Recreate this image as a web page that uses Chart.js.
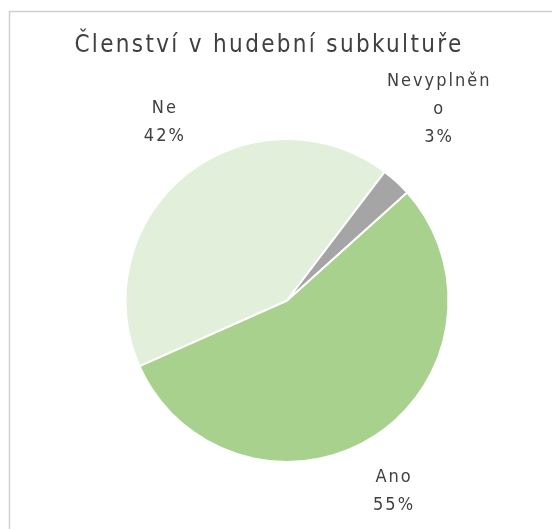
<!DOCTYPE html>
<html>
<head>
<meta charset="utf-8">
<script src="https://cdn.jsdelivr.net/npm/chart.js@4"></script>
<style>
  html, body { margin: 0; padding: 0; background: #fff; }
  #wrap { position: relative; width: 552px; height: 529px; }
</style>
</head>
<body>
<div id="wrap"><canvas id="pieChart" width="552" height="529"></canvas></div>
<script>
const categories = ["Ano", "Ne", "Nevyplněno"];
const values = [55, 42, 3];
const colors = ["#a9d18e", "#e2efda", "#a5a5a5"];
const chartTitle = "Členství v hudební subkultuře";

const FONT = "'Liberation Sans Narrow', 'DejaVu Sans Condensed', 'Liberation Sans', sans-serif";
const TEXT_COLOR = "#404040";

// thin frame on the left and top + the spaced out title
const framePlugin = {
  id: "frame",
  beforeDraw(chart) {
    const ctx = chart.ctx;
    ctx.save();
    ctx.strokeStyle = "#d0d0d0";
    ctx.lineWidth = 1.5;
    ctx.beginPath();
    ctx.moveTo(9.5, chart.height);
    ctx.lineTo(9.5, 11.5);
    ctx.lineTo(chart.width, 11.5);
    ctx.stroke();

    ctx.font = "24px " + FONT;
    ctx.fillStyle = TEXT_COLOR;
    ctx.textAlign = "center";
    ctx.textBaseline = "alphabetic";
    // stretch letters so the title is about as wide as in excel
    const natural = ctx.measureText(chartTitle).width;
    const n = [...chartTitle].length;
    ctx.letterSpacing = Math.max(0, (389 - natural) / n).toFixed(2) + "px";
    ctx.fillText(chartTitle, 269, 52);
    ctx.restore();
  },
};

// labels outside each slice: category name + percent
const outsideLabels = {
  id: "outsideLabels",
  afterDatasetsDraw(chart) {
    const ctx = chart.ctx;
    const meta = chart.getDatasetMeta(0);
    const total = values.reduce((a, b) => a + b, 0);
    ctx.save();
    ctx.font = "18px " + FONT;
    ctx.letterSpacing = "2px";
    ctx.fillStyle = TEXT_COLOR;
    ctx.textAlign = "center";
    ctx.textBaseline = "middle";
    const lineH = 28;
    const maxW = 106;
    meta.data.forEach((arc, i) => {
      const p = arc.getProps(["x", "y", "startAngle", "endAngle", "outerRadius"], true);
      const mid = (p.startAngle + p.endAngle) / 2;
      // wrap the name by characters if too wide
      const lines = [];
      let cur = "";
      for (const ch of categories[i]) {
        if (ctx.measureText(cur + ch).width > maxW && cur) {
          lines.push(cur);
          cur = ch;
        } else {
          cur += ch;
        }
      }
      lines.push(cur);
      lines.push(Math.round((values[i] / total) * 100) + "%");
      const w = Math.max(...lines.map((l) => ctx.measureText(l).width));
      const h = lines.length * lineH;
      const cx = Math.cos(mid);
      const cy = Math.sin(mid);
      const d = p.outerRadius + 22 + Math.abs(cx) * w / 2 + Math.abs(cy) * h / 2;
      const lx = p.x + cx * d * 0.9;
      const ly = p.y + cy * d * 1.04;
      lines.forEach((l, j) => {
        ctx.fillText(l, lx, ly - h / 2 + lineH / 2 + j * lineH);
      });
    });
    ctx.restore();
  },
};

const ctx = document.getElementById("pieChart").getContext("2d");
const pieChart = new Chart(ctx, {
  type: "pie",
  data: {
    labels: categories,
    datasets: [
      {
        data: values,
        backgroundColor: colors,
        borderColor: "#ffffff",
        borderWidth: 2,
      },
    ],
  },
  options: {
    responsive: false,
    animation: false,
    rotation: 48,
    layout: {
      padding: { top: 138, bottom: 66, left: 22, right: 0 },
    },
    plugins: {
      legend: { display: false },
      tooltip: { enabled: false },
      title: { display: false },
    },
  },
  plugins: [framePlugin, outsideLabels],
});
</script>
</body>
</html>
